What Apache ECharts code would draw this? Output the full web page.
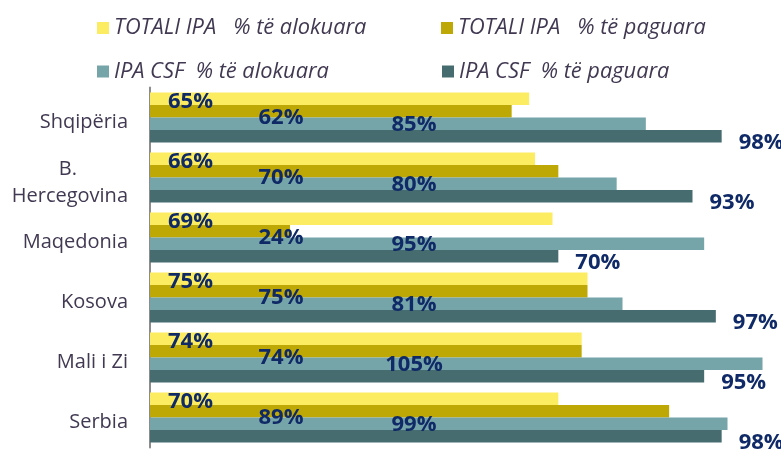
<!DOCTYPE html>
<html>
<head>
<meta charset="utf-8">
<script src="https://cdn.jsdelivr.net/npm/echarts@6/dist/echarts.min.js"></script>
<style>
html,body{margin:0;padding:0;background:#fff;}
#chart{width:781px;height:451px;}
</style>
</head>
<body>
<div id="chart"></div>
<script>
const categories = ["Shqipëria", "B. Hercegovina", "Maqedonia", "Kosova", "Mali i Zi", "Serbia"];
const seriesNames = ["TOTALI IPA   % të alokuara", "TOTALI IPA   % të paguara", "IPA CSF  % të alokuara", "IPA CSF  % të paguara"];
const totalAlokuara = [65, 66, 69, 75, 74, 70];
const totalPaguara = [62, 70, 24, 75, 74, 89];
const csfAlokuara = [85, 80, 95, 81, 105, 99];
const csfPaguara = [98, 93, 70, 97, 95, 98];

const colors = ["#FCEC62", "#BEA806", "#75A4A9", "#476C70"];
const labelColor = "#0F2A66";
const textColor = "#413952";
const FONT = "'Open Sans', 'Noto Sans', sans-serif";

const chart = echarts.init(document.getElementById('chart'));

const baseLabel = {
  show: true,
  formatter: p => p.value + '%',
  color: labelColor,
  fontFamily: FONT,
  fontWeight: 'bold',
  fontSize: 22
};

function legendFor(i, left, top) {
  return {
    data: [seriesNames[i]],
    left: left, top: top,
    padding: 0,
    icon: 'rect',
    itemWidth: 12, itemHeight: 12,
    textStyle: { fontFamily: FONT, fontStyle: 'italic', fontSize: 21.8, color: textColor }
  };
}

const option = {
  animation: false,
  legend: [
    legendFor(0, 97, 17),
    legendFor(1, 441, 17),
    legendFor(2, 97, 60.5),
    legendFor(3, 442, 60.5)
  ],
  grid: { left: 150, top: 87.5, width: 630, height: 360 },
  xAxis: {
    type: 'value', min: 0, max: 108,
    show: false,
    splitLine: { show: false }
  },
  yAxis: {
    type: 'category',
    inverse: true,
    data: categories,
    axisLine: { show: true, lineStyle: { color: '#8C8C8C', width: 2 } },
    axisTick: { show: false },
    axisLabel: {
      margin: 22,
      padding: [10, 0, 0, 0],
      fontFamily: FONT, fontSize: 20, color: textColor,
      formatter: v => v === 'B. Hercegovina' ? '{a|B.}\n{b|Hercegovina}' : v,
      rich: {
        a: { fontFamily: FONT, fontSize: 20, color: textColor, lineHeight: 27, padding: [0, 51, 0, 0] },
        b: { fontFamily: FONT, fontSize: 20, color: textColor, lineHeight: 27 }
      }
    }
  },
  series: [
    {
      name: seriesNames[0], type: 'bar', data: totalAlokuara,
      barCategoryGap: '16.7%', barGap: 0,
      itemStyle: { color: colors[0] },
      label: Object.assign({}, baseLabel, { position: [18, 9.5], align: 'left', verticalAlign: 'middle' }),
      z: 2
    },
    {
      name: seriesNames[1], type: 'bar', data: totalPaguara,
      barCategoryGap: '16.7%', barGap: 0,
      itemStyle: { color: colors[1] },
      label: Object.assign({}, baseLabel, { position: [131, 13], align: 'center', verticalAlign: 'middle' }),
      z: 2
    },
    {
      name: seriesNames[2], type: 'bar', data: csfAlokuara,
      barCategoryGap: '16.7%', barGap: 0,
      itemStyle: { color: colors[2] },
      label: Object.assign({}, baseLabel, { position: [264, 7], align: 'center', verticalAlign: 'middle' }),
      z: 2
    },
    {
      name: seriesNames[3], type: 'bar', data: csfPaguara,
      barCategoryGap: '16.7%', barGap: 0,
      itemStyle: { color: colors[3] },
      label: Object.assign({}, baseLabel, { position: 'right', distance: 17, offset: [0, 6] }),
      z: 2
    }
  ]
};
chart.setOption(option);
</script>
</body>
</html>
